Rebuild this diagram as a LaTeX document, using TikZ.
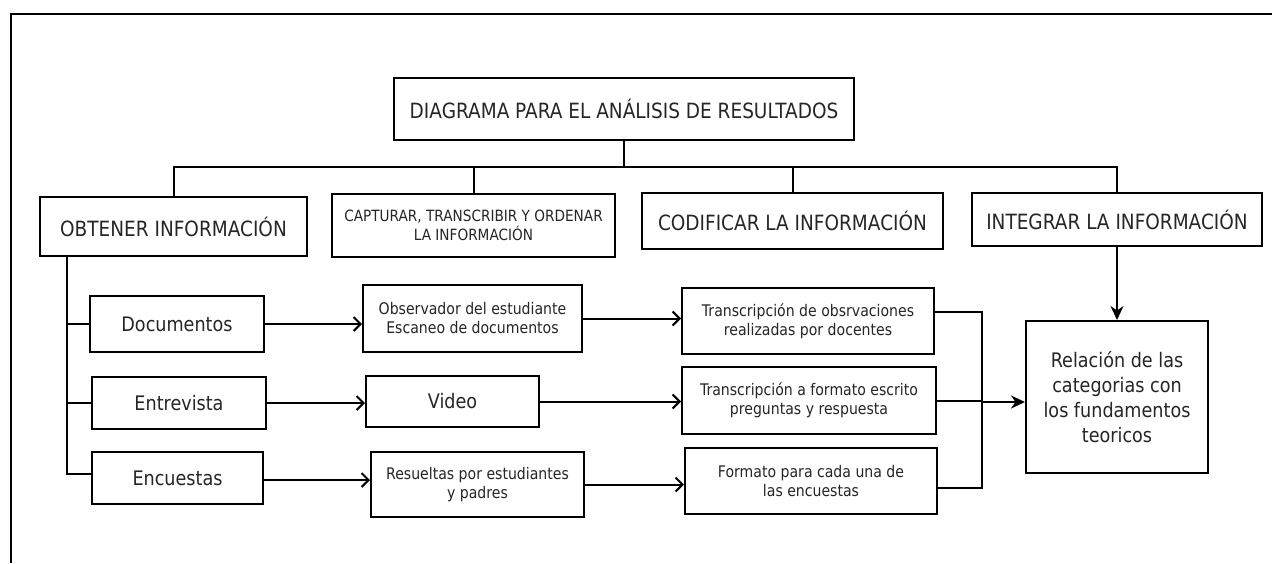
\documentclass[tikz,border=0pt]{standalone}
\usepackage{fontspec}
\setmainfont{DejaVu Sans}[FakeStretch=0.88]
\usetikzlibrary{arrows.meta}
\tikzset{
  box/.style={draw, line width=2pt, text=black!85, align=center, inner sep=2pt},
  big/.style={font=\fontsize{21}{25}\selectfont},
  mid/.style={font=\fontsize{20}{25}\selectfont},
  sml/.style={font=\fontsize{16}{19}\selectfont},
  conn/.style={line width=2pt},
  openarr/.style={conn, -{Straight Barb[length=7pt,width=14pt,line width=2pt]}},
  fillarr/.style={conn, -{Stealth[length=14pt,width=13pt]}},
}
\begin{document}
\begin{tikzpicture}[x=1pt,y=-1pt]
\useasboundingbox (0,0) rectangle (1272,563);
\fill[white] (0,0) rectangle (1272,563);
% frame
\draw[line width=1.5pt] (11,563) -- (11,14) -- (1272,14);

% nodes
\node[box,big,minimum width=460pt,minimum height=62pt] (title) at (624,109) {DIAGRAMA PARA EL ANÁLISIS DE RESULTADOS};
\node[box,big,minimum width=267pt,minimum height=59pt] (obt) at (173.5,226.5) {OBTENER INFORMACIÓN};
\node[box,font=\fontsize{15.5}{18.5}\selectfont,minimum width=283pt,minimum height=63pt] (cap) at (473.5,225.5) {CAPTURAR, TRANSCRIBIR Y ORDENAR\\LA INFORMACIÓN};
\node[box,big,minimum width=301pt,minimum height=56pt] (cod) at (792.5,221) {CODIFICAR LA INFORMACIÓN};
\node[box,big,minimum width=290pt,minimum height=53pt] (int) at (1117,219.5) {INTEGRAR LA INFORMACIÓN};

\node[box,mid,minimum width=174pt,minimum height=56pt] (doc) at (177,324) {Documentos};
\node[box,mid,minimum width=174pt,minimum height=52pt] (ent) at (179,403) {Entrevista};
\node[box,mid,minimum width=171pt,minimum height=52pt] (enc) at (177.5,478) {Encuestas};

\node[box,sml,minimum width=219pt,minimum height=67pt] (obs) at (472.5,318.5) {Observador del estudiante\\Escaneo de documentos};
\node[box,mid,minimum width=173pt,minimum height=51pt] (vid) at (452.5,401.5) {Video};
\node[box,sml,minimum width=213pt,minimum height=65pt] (res) at (477.5,484.5) {Resueltas por estudiantes\\y padres};

\node[box,sml,minimum width=252pt,minimum height=66pt] (tr1) at (808,321) {Transcripción de obsrvaciones\\realizadas por docentes};
\node[box,sml,minimum width=254pt,minimum height=67pt] (tr2) at (809,400.5) {Transcripción a formato escrito\\preguntas y respuesta};
\node[box,sml,minimum width=252pt,minimum height=66pt] (tr3) at (811,481) {Formato para cada una de\\las encuestas};

\node[box,mid,minimum width=182pt,minimum height=152pt] (rel) at (1117,397) {Relación de las\\categorias con\\los fundamentos\\teoricos};

% top bus
\coordinate (bus) at (624,167);
\draw[conn] (title.south) -- (title.south |- bus);
\draw[conn] (obt.north) -- (obt.north |- bus) -- (int.north |- bus) -- (int.north);
\draw[conn] (cap.north) -- (cap.north |- bus);
\draw[conn] (cod.north) -- (cod.north |- bus);

% left tree
\coordinate (lt) at ([xshift=28pt]obt.south west);
\draw[conn] (lt) |- ([yshift=4pt]enc.west);
\draw[conn] (doc.west) -- (doc.west -| lt);
\draw[conn] (ent.west) -- (ent.west -| lt);

% arrows row by row
\draw[openarr] (doc.east) -- (doc.east -| obs.west);
\draw[openarr] (ent.east) -- (ent.east -| vid.west);
\draw[openarr] ([yshift=-2pt]enc.east) -- ([yshift=-2pt]enc.east -| res.west);
\draw[openarr] (obs.east) -- (obs.east -| tr1.west);
\draw[openarr] (vid.east) -- (vid.east -| tr2.west);
\draw[openarr] (res.east) -- (res.east -| tr3.west);

% merge on the right
\coordinate (mg) at (982,402);
\draw[conn] ([yshift=9pt]tr1.east) -| (mg);
\draw[conn] ([yshift=-7pt]tr3.east) -| (mg);
\draw[conn] (tr2.east) -- (tr2.east -| mg);
\draw[fillarr] (mg) -- (mg -| rel.west);
\draw[fillarr] (int.south) -- (rel.north);
\end{tikzpicture}
\end{document}
